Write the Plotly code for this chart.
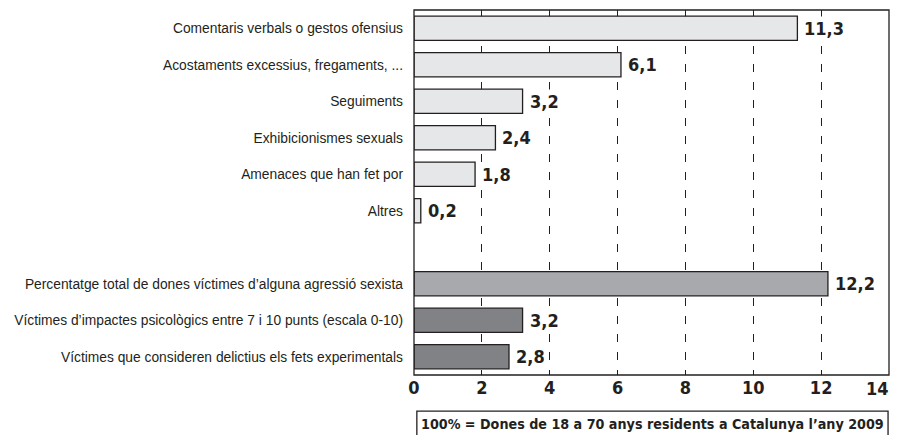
import plotly.graph_objects as go

categories = [
    "Comentaris verbals o gestos ofensius",
    "Acostaments excessius, fregaments, ...",
    "Seguiments",
    "Exhibicionismes sexuals",
    "Amenaces que han fet por",
    "Altres",
    " ",
    "Percentatge total de dones víctimes d’alguna agressió sexista",
    "Víctimes d’impactes psicològics entre 7 i 10 punts (escala 0-10)",
    "Víctimes que consideren delictius els fets experimentals",
]
values = [11.3, 6.1, 3.2, 2.4, 1.8, 0.2, None, 12.2, 3.2, 2.8]
colors = ["#e6e7e8"] * 7 + ["#a7a9ac", "#808285", "#808285"]
tick_vals = [0, 2, 4, 6, 8, 10, 12, 14]
note = "100% = Dones de 18 a 70 anys residents a Catalunya l’any 2009"

narrow = "DejaVu Sans Condensed, Liberation Sans Narrow, Arial Narrow, sans-serif"

fig = go.Figure()
fig.add_trace(
    go.Bar(
        x=values,
        y=categories,
        orientation="h",
        width=0.66,
        marker={"color": colors, "line": {"color": "#231f20", "width": 1.3}},
        hoverinfo="skip",
    )
)

# value labels with a white background so the dashed grid stops behind them
for cat, v in zip(categories, values):
    if v is None:
        continue
    fig.add_annotation(
        x=v,
        y=cat,
        text="<b>" + f"{v:.1f}".replace(".", ",") + "</b>",
        showarrow=False,
        xanchor="left",
        xshift=5,
        bgcolor="white",
        borderpad=1,
        font={"family": narrow, "size": 18, "color": "#231f20"},
    )

# the page body adds an 8px margin: keep the figure inside the window
fig.update_layout(
    width=883,
    height=427,
    margin={"l": 406, "r": 2, "t": 2, "b": 60},
    paper_bgcolor="white",
    plot_bgcolor="white",
    showlegend=False,
    font={"family": "Liberation Sans, Arial, sans-serif", "color": "#231f20"},
)
fig.update_xaxes(
    range=[0, 14],
    tickvals=tick_vals,
    ticktext=[str(t) for t in tick_vals[:-1]] + [""],
    tickfont={"family": narrow, "size": 18, "weight": "bold"},
    showgrid=True,
    gridcolor="#231f20",
    gridwidth=1,
    griddash="8px,10px",
    zeroline=False,
    showline=False,
    ticks="",
    automargin=False,
)
# last tick label sits at the right edge, so anchor it inside the figure
fig.add_annotation(
    x=tick_vals[-1],
    xref="x",
    y=-0.038,
    yref="paper",
    text=f"<b>{tick_vals[-1]}</b>",
    showarrow=False,
    xanchor="right",
    yanchor="middle",
    xshift=2,
    font={"family": narrow, "size": 18, "color": "#231f20"},
)
fig.update_yaxes(
    autorange="reversed",
    tickfont={"size": 13.8},
    showline=False,
    ticks="",
    ticklabelstandoff=10,
    automargin=False,
)

# frame around the plot area
fig.add_shape(
    type="rect", xref="paper", yref="paper", x0=0, x1=1, y0=0, y1=1,
    line={"color": "#231f20", "width": 1.3}, layer="above",
)

# footnote box
fig.add_shape(
    type="rect", xref="paper", yref="paper", x0=0.006, x1=0.998, y0=-0.099, y1=-0.26,
    line={"color": "#231f20", "width": 1.3}, fillcolor="white",
)
fig.add_annotation(
    text=f"<b>{note}</b>",
    xref="paper",
    yref="paper",
    x=0.503,
    y=-0.134,
    xanchor="center",
    yanchor="middle",
    showarrow=False,
    font={"family": narrow, "size": 14.2, "color": "#231f20"},
)

fig.write_html("out.html")
